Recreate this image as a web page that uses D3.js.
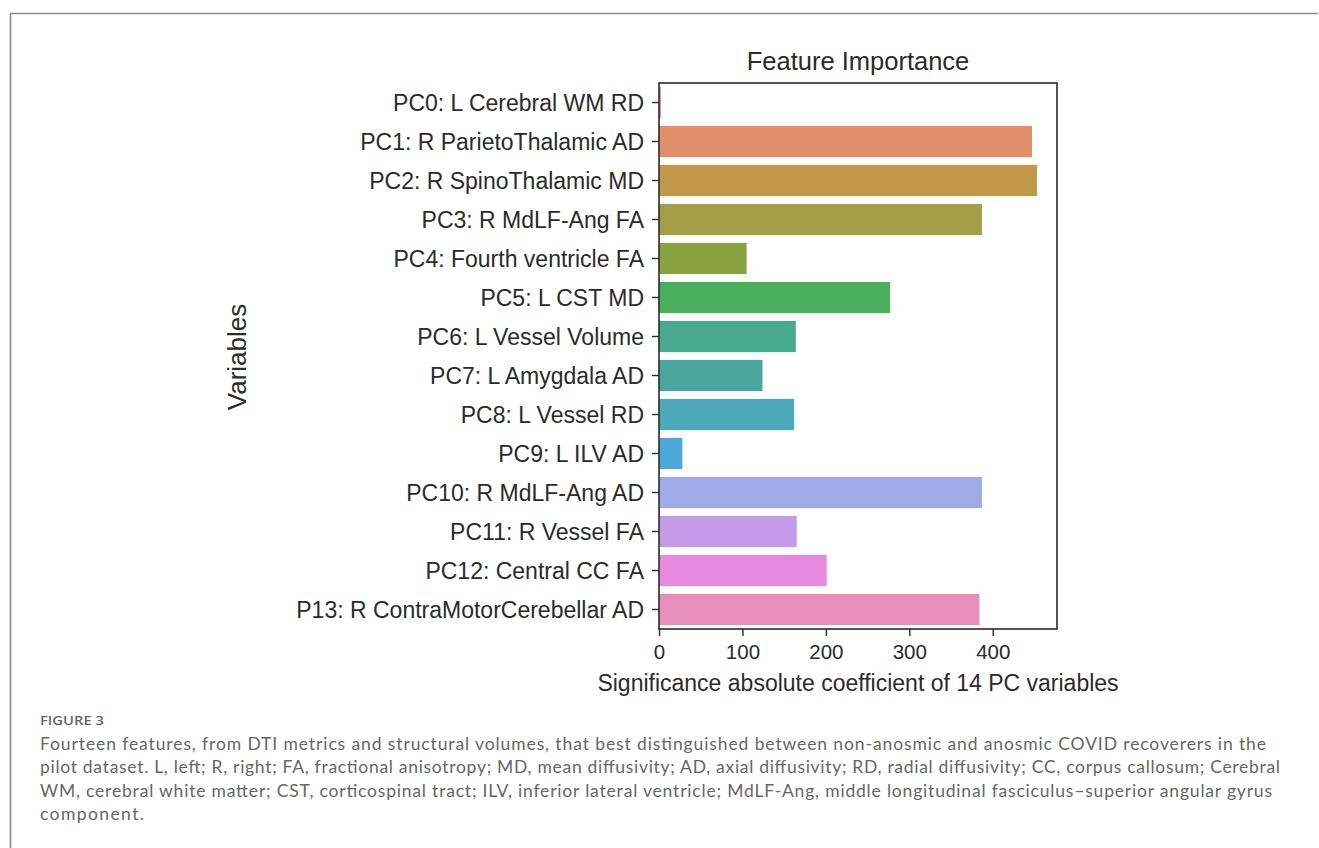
<!DOCTYPE html>
<html>
<head>
<meta charset="utf-8">
<script src="https://cdn.jsdelivr.net/npm/d3@7"></script>
<style>
  html, body { margin: 0; padding: 0; background: #fff; }
  svg { display: block; }
</style>
</head>
<body>
<svg id="fig" width="1319" height="848"></svg>
<script>
// Feature labels (one per principal component)
const categories = [
  "PC0: L Cerebral WM RD",
  "PC1: R ParietoThalamic AD",
  "PC2: R SpinoThalamic MD",
  "PC3: R MdLF-Ang FA",
  "PC4: Fourth ventricle FA",
  "PC5: L CST MD",
  "PC6: L Vessel Volume",
  "PC7: L Amygdala AD",
  "PC8: L Vessel RD",
  "PC9: L ILV AD",
  "PC10: R MdLF-Ang AD",
  "PC11: R Vessel FA",
  "PC12: Central CC FA",
  "P13: R ContraMotorCerebellar AD"
];

// Absolute coefficient of each component
const importance = [2, 447, 453, 387, 105, 277, 164, 124, 162, 28, 387, 165, 201, 384];

// One hue per bar
const barColors = [
  "#e2647c", "#e1906b", "#c09848", "#a39e47", "#89a240", "#4aaf5c", "#48ab8d",
  "#4aa69e", "#4ba9b9", "#4ba8d8", "#9faae8", "#c39be6", "#e68ae0", "#e68fbd"
];

const xTicks = [0, 100, 200, 300, 400];

const captionHead = "FIGURE 3";
const captionLines = [
  "Fourteen features, from DTI metrics and structural volumes, that best distinguished between non-anosmic and anosmic COVID recoverers in the",
  "pilot dataset. L, left; R, right; FA, fractional anisotropy; MD, mean diffusivity; AD, axial diffusivity; RD, radial diffusivity; CC, corpus callosum; Cerebral",
  "WM, cerebral white matter; CST, corticospinal tract; ILV, inferior lateral ventricle; MdLF-Ang, middle longitudinal fasciculus\u2013superior angular gyrus",
  "component."
];
const captionWidths = [1226, 1240, 1232, 104];

const svg = d3.select("#fig");

// Outer figure frame (open on the right and bottom)
svg.append("path")
  .attr("d", "M10.5,848 L10.5,13.5 L1318,13.5")
  .attr("fill", "none")
  .attr("stroke", "#8a8a8a")
  .attr("stroke-width", 1.6);

const plot = { left: 659, right: 1057, top: 83, bottom: 629 };

const x = d3.scaleLinear()
  .domain([0, 477])
  .range([plot.left, plot.right]);

const y = d3.scaleBand()
  .domain(categories)
  .range([plot.top, plot.bottom])
  .paddingInner(0.2)
  .paddingOuter(0.1);

const font = "'Liberation Sans', Arial, Helvetica, sans-serif";

// Bars
svg.append("g")
  .selectAll("rect")
  .data(categories)
  .join("rect")
  .attr("x", x(0))
  .attr("y", d => y(d))
  .attr("width", (d, i) => x(importance[i]) - x(0))
  .attr("height", y.bandwidth())
  .attr("fill", (d, i) => barColors[i]);

// Axes
const yAxis = svg.append("g")
  .attr("transform", `translate(${plot.left},0)`)
  .call(d3.axisLeft(y).tickSize(7).tickPadding(8));

const xAxis = svg.append("g")
  .attr("transform", `translate(0,${plot.bottom})`)
  .call(d3.axisBottom(x).tickValues(xTicks).tickSize(7).tickPadding(5));

[yAxis, xAxis].forEach(g => {
  g.select(".domain").remove();
  g.selectAll(".tick line").attr("stroke", "#2b2b2b").attr("stroke-width", 1.4);
  g.selectAll(".tick text")
    .attr("fill", "#2b2b2b")
    .style("font-family", font);
});
yAxis.selectAll(".tick text").attr("dy", "0.35em").style("font-size", "23px");
xAxis.selectAll(".tick text").attr("dy", "0.9em").style("font-size", "20.5px");

// Plot frame
svg.append("rect")
  .attr("x", plot.left)
  .attr("y", plot.top)
  .attr("width", plot.right - plot.left)
  .attr("height", plot.bottom - plot.top)
  .attr("fill", "none")
  .attr("stroke", "#2b2b2b")
  .attr("stroke-width", 1.6);

// Title and axis titles
svg.append("text")
  .attr("x", (plot.left + plot.right) / 2)
  .attr("y", 70)
  .attr("text-anchor", "middle")
  .attr("fill", "#2b2b2b")
  .style("font-family", font)
  .style("font-size", "25.5px")
  .text("Feature Importance");

svg.append("text")
  .attr("x", (plot.left + plot.right) / 2)
  .attr("y", 691)
  .attr("text-anchor", "middle")
  .attr("fill", "#2b2b2b")
  .style("font-family", font)
  .style("font-size", "23px")
  .text("Significance absolute coefficient of 14 PC variables");

svg.append("text")
  .attr("transform", "translate(246,357) rotate(-90)")
  .attr("text-anchor", "middle")
  .attr("fill", "#2b2b2b")
  .style("font-family", font)
  .style("font-size", "26px")
  .text("Variables");

// Caption
svg.append("text")
  .attr("x", 40)
  .attr("y", 725)
  .attr("fill", "#666")
  .attr("textLength", 64)
  .attr("lengthAdjust", "spacingAndGlyphs")
  .style("font-family", "'Open Sans', Lato, sans-serif")
  .style("font-size", "13px")
  .style("font-weight", 600)
  .text(captionHead);

svg.append("g")
  .selectAll("text")
  .data(captionLines)
  .join("text")
  .attr("x", 40)
  .attr("y", (d, i) => 750 + i * 23.4)
  .attr("fill", "#666")
  .attr("textLength", (d, i) => captionWidths[i])
  .attr("lengthAdjust", "spacing")
  .style("font-family", "Lato, 'Open Sans', sans-serif")
  .style("font-size", "17.5px")
  .style("font-weight", 400)
  .text(d => d);
</script>
</body>
</html>
